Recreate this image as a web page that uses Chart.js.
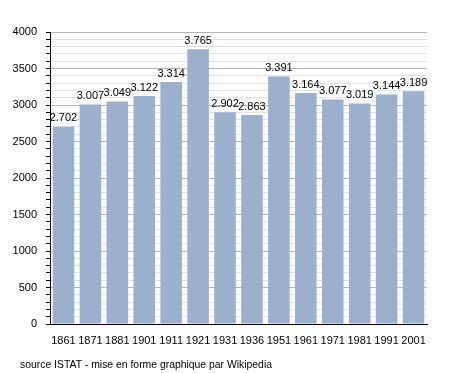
<!DOCTYPE html>
<html>
<head>
<meta charset="utf-8">
<script src="https://cdn.jsdelivr.net/npm/chart.js@4"></script>
<style>
  html, body { margin: 0; padding: 0; background: #fff; }
  #wrap { width: 455px; height: 373px; }
</style>
</head>
<body>
<div id="wrap"><canvas id="myChart" width="455" height="373"></canvas></div>
<script>
  // anni dei censimenti
  const years = ["1861", "1871", "1881", "1901", "1911", "1921", "1931", "1936", "1951", "1961", "1971", "1981", "1991", "2001"];
  // abitanti
  const population = [2702, 3007, 3049, 3122, 3314, 3765, 2902, 2863, 3391, 3164, 3077, 3019, 3144, 3189];
  const sourceNote = "source ISTAT - mise en forme graphique par Wikipedia";

  const FONT = "'Liberation Sans', Arial, sans-serif";

  function fmt(v) { // 2702 -> 2.702
    return String(v).replace(/\B(?=(\d{3})+(?!\d))/g, ".");
  }

  // etichette sopra le barre + nota in basso
  const extras = {
    id: 'extras',
    afterDatasetsDraw(chart) {
      const c = chart.ctx;
      const meta = chart.getDatasetMeta(0);
      c.save();
      c.fillStyle = '#000';
      c.font = '11px ' + FONT;
      c.textAlign = 'center';
      c.textBaseline = 'bottom';
      meta.data.forEach((bar, i) => {
        c.fillText(fmt(population[i]), bar.x, bar.y - 3);
      });
      c.font = '10.4px ' + FONT;
      c.textAlign = 'left';
      c.textBaseline = 'middle';
      c.fillText(sourceNote, 20, 365);
      c.restore();
    }
  };

  const ctx = document.getElementById("myChart");
  new Chart(ctx, {
    type: 'bar',
    data: {
      labels: years,
      datasets: [{
        data: population,
        backgroundColor: '#9ab0cc',
        barPercentage: 0.8,
        categoryPercentage: 1.0
      }]
    },
    options: {
      responsive: false,
      animation: false,
      layout: { padding: { left: 0, top: 32, right: 28, bottom: 0 } },
      plugins: { legend: { display: false }, tooltip: { enabled: false } },
      scales: {
        x: {
          grid: { display: false },
          border: { color: '#000', width: 1 },
          ticks: { color: '#000', font: { family: FONT, size: 11 }, padding: 2, maxRotation: 0, autoSkip: false },
          afterFit: s => { s.height = 49; }
        },
        y: {
          min: 0,
          max: 4000,
          border: { color: '#000', width: 1 },
          grid: {
            color: c => (c.tick && c.tick.value % 500 === 0) ? '#b4b4b4' : '#e2e2e2',
            tickColor: '#000',
            tickLength: 4
          },
          ticks: {
            stepSize: 100,
            autoSkip: false,
            color: '#000',
            padding: 9,
            font: { family: FONT, size: 11 },
            callback: v => (v % 500 === 0 ? String(v) : '')
          },
          afterFit: s => { s.width = 50; }
        }
      }
    },
    plugins: [extras]
  });
</script>
</body>
</html>
